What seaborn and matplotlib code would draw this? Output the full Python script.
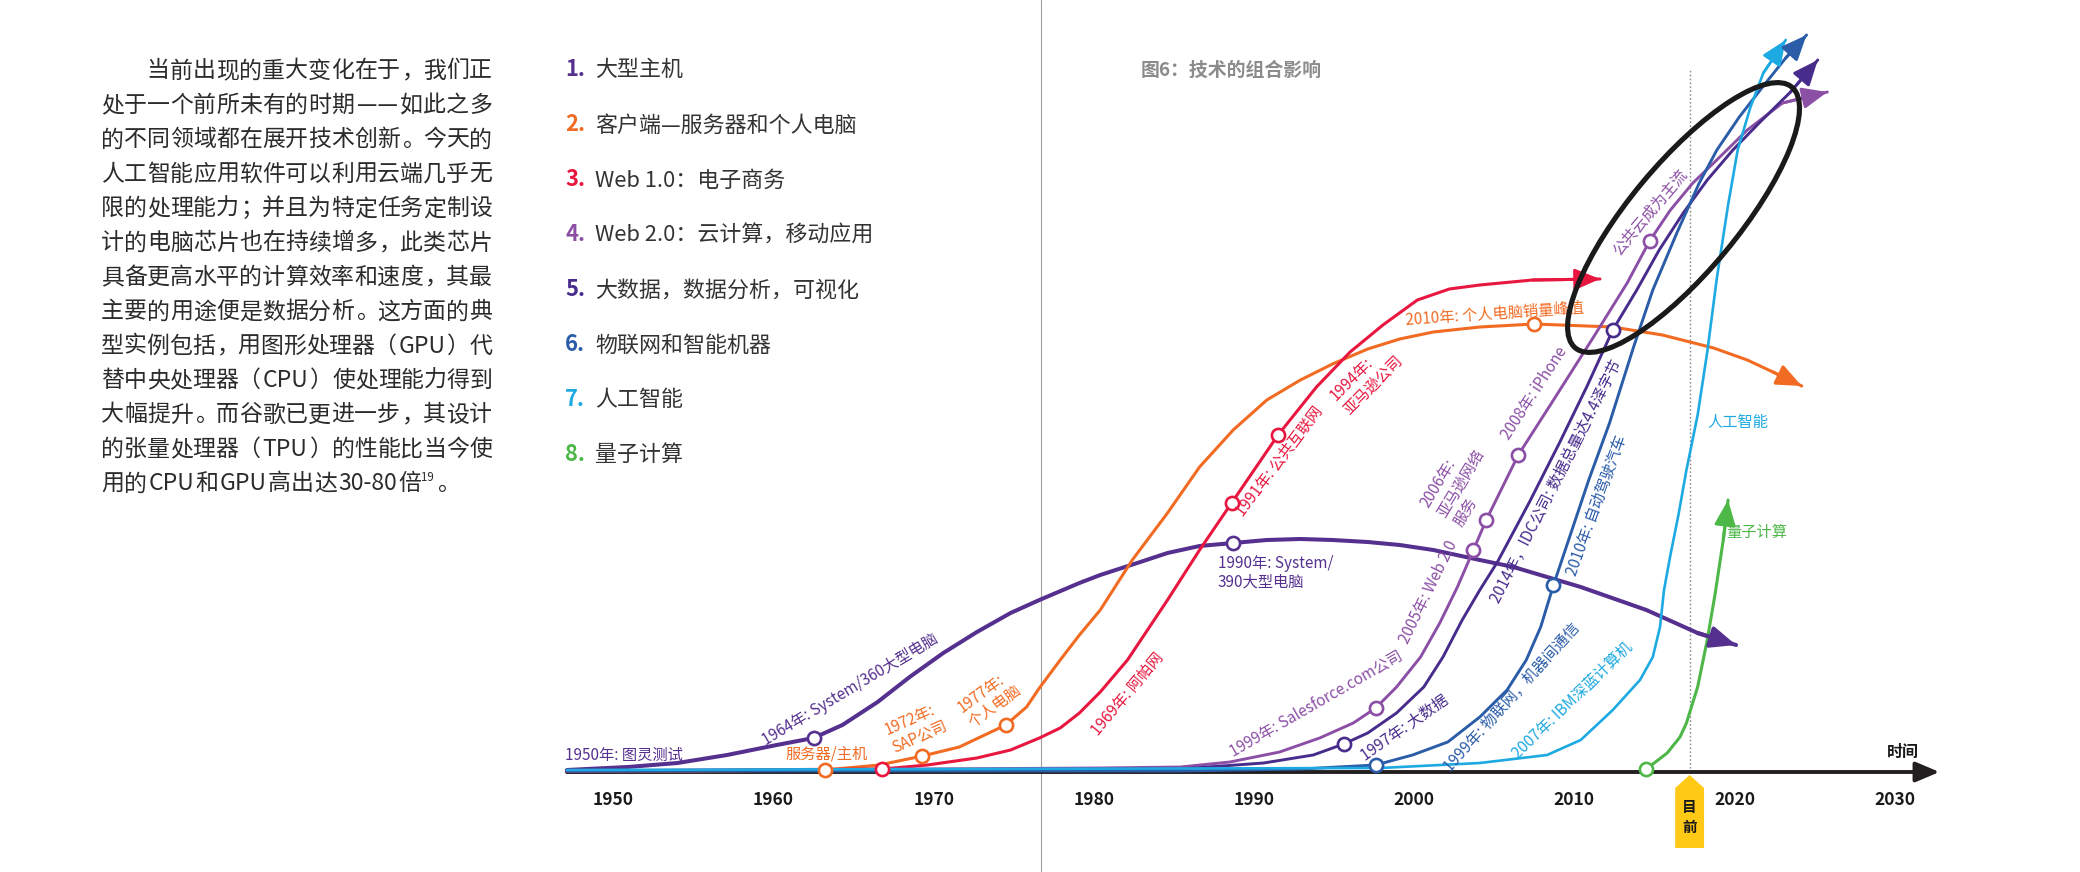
import re
import matplotlib
matplotlib.use("Agg")
import matplotlib.pyplot as plt
import matplotlib.transforms as mtransforms
from matplotlib.patches import Ellipse, Polygon
import pandas as pd
import seaborn as sns

# ------------------------------------------------------------------ data
series_names = ["大型主机", "客户端—服务器和个人电脑", "Web 1.0：电子商务",
                "Web 2.0：云计算，移动应用", "大数据，数据分析，可视化",
                "物联网和智能机器", "人工智能", "量子计算"]
series_colors = ["#55308F", "#F26B22", "#E8173F", "#8C4FA6",
                 "#472C8C", "#2B5CA8", "#1DA9E1", "#4DB748"]

mainframe_year = [1947.1, 1950.9, 1954.0, 1957.1, 1960.2, 1962.5, 1964.3, 1966.5, 1968.5,
                  1970.6, 1972.7, 1974.8, 1976.6, 1979.1, 1980.4, 1982.9, 1984.6, 1986.6,
                  1988.7, 1990.8, 1992.9, 1994.9, 1997.1, 1999.1, 2001.2, 2004.1, 2006.2,
                  2010.4, 2014.5, 2017.7, 2020.1]
mainframe_val = [2, 5, 9, 17, 27, 34, 47, 70, 95, 119, 140, 159, 172, 189, 197, 210, 219,
                 226, 229, 232, 233, 232, 230, 227, 222, 212, 205, 185, 162, 139, 127]

client_year = [1947.1, 1955.4, 1963.2, 1966.6, 1969.3, 1971.6, 1974.5, 1975.8, 1976.6,
               1977.9, 1979.1, 1980.4, 1982.4, 1984.6, 1986.6, 1988.7, 1990.8, 1992.9,
               1994.9, 1997.1, 1999.1, 2001.2, 2004.1, 2007.5, 2012.4, 2015.5, 2018.7,
               2020.8, 2022.4, 2024.2]
client_val = [1, 1, 2, 7, 16, 25, 47, 65, 84, 112, 137, 162, 212, 259, 305, 342, 372, 392,
              408, 423, 433, 440, 445, 448, 445, 437, 424, 412, 400, 386]

web1_year = [1947.1, 1966.8, 1969.6, 1972.7, 1974.8, 1976.6, 1977.9, 1979.1, 1980.4,
             1982.1, 1984.6, 1986.6, 1988.6, 1991.5, 1993.9, 1996.0, 1998.05, 2000.2,
             2002.2, 2004.1, 2007.4, 2011.6]
web1_val = [1, 3, 7, 14, 22, 34, 44, 59, 80, 112, 172, 222, 269, 337, 385, 420, 447, 472,
            483, 487, 492, 493]

web2_year = [1947.1, 1980.4, 1985.4, 1988.5, 1991.6, 1994.1, 1996.2, 1997.6, 1998.9,
             2000.4, 2001.6, 2002.7, 2003.7, 2004.5, 2006.5, 2008.7, 2011.2, 2013.3,
             2014.7, 2016.0, 2017.4, 2018.7, 2020.8, 2023.0, 2025.8]
web2_val = [1, 4, 5, 10, 20, 34, 49, 64, 85, 115, 149, 185, 222, 252, 317, 372, 435, 489,
            531, 562, 589, 609, 642, 669, 680]

bigdata_year = [1947.1, 1985.4, 1990.6, 1993.7, 1995.6, 1997.1, 1998.9, 2000.6, 2001.8,
                2003.0, 2004.1, 2005.2, 2007.2, 2009.1, 2010.8, 2012.4, 2013.9, 2015.3,
                2016.8, 2018.3, 2019.9, 2021.6, 2023.5, 2025.2]
bigdata_val = [1, 3, 9, 17, 28, 39, 59, 85, 115, 152, 182, 210, 270, 330, 386, 442, 482,
               522, 559, 592, 622, 650, 680, 712]

iot_year = [1947.1, 1985.4, 1992.9, 1997.6, 1999.9, 2002.1, 2004.1, 2005.8, 2007.0,
            2007.9, 2008.7, 2010.9, 2012.2, 2013.7, 2014.9, 2016.4, 2017.8, 2018.9, 2020.3,
            2021.8, 2023.2, 2024.5]
iot_val = [1, 1, 3, 7, 17, 30, 55, 82, 112, 145, 187, 292, 349, 425, 482, 539, 589, 622,
           655, 686, 714, 737]

ai_year = [1947.1, 1997.9, 2004.1, 2008.3, 2010.4, 2012.4, 2014.1, 2014.9, 2015.35, 2015.6,
           2016.0, 2016.5, 2017.0, 2017.7, 2018.3, 2018.9, 2019.6, 2020.2, 2021.0, 2021.8,
           2023.2]
ai_val = [2, 4, 9, 17, 32, 62, 92, 115, 145, 182, 217, 257, 302, 357, 420, 494, 567, 622,
          665, 699, 732]

quantum_year = [2014.5, 2015.8, 2016.6, 2017.0, 2017.7, 2018.3, 2018.8, 2019.3, 2019.6]
quantum_val = [3, 19, 35, 49, 85, 132, 179, 232, 272]

series_years = [mainframe_year, client_year, web1_year, web2_year, bigdata_year, iot_year,
                ai_year, quantum_year]
series_vals = [mainframe_val, client_val, web1_val, web2_val, bigdata_val, iot_val,
               ai_val, quantum_val]

# event markers (open circles) per series
marker_years = [[1962.5, 1988.7], [1963.2, 1969.3, 1974.5, 2007.5], [1966.8, 1988.6, 1991.5],
                [1997.6, 2003.7, 2004.5, 2006.5, 2014.7], [1995.6, 2012.4], [1997.6, 2008.7],
                [], [2014.5]]
marker_vals = [[34, 229], [2, 16, 47, 448], [3, 269, 337],
               [64, 222, 252, 317, 531], [28, 442], [7, 187], [], [3]]

event_labels = [
    "1950年: 图灵测试", "1964年: System/360大型电脑", "1990年: System/\n390大型电脑",
    "服务器/主机", "1972年:\nSAP公司", "1977年:\n个人电脑", "2010年: 个人电脑销量峰值",
    "1969年: 阿帕网", "1991年: 公共互联网", "1994年:\n亚马逊公司",
    "1999年: Salesforce.com公司", "2005年: Web 2.0", "2006年:\n亚马逊网络\n服务",
    "2008年: iPhone", "公共云成为主流", "1997年: 大数据",
    "2014年，IDC公司: 数据总量达4.4泽字节", "1999年: 物联网，机器间通信",
    "2010年: 自动驾驶汽车", "2007年: IBM深蓝计算机", "人工智能", "量子计算"]

tick_years = [1950, 1960, 1970, 1980, 1990, 2000, 2010, 2020, 2030]
now_year = 2017.2
now_label = "目\n前"
axis_label = "时间"
title = "图6：技术的组合影响"

para_lines = [
    "当前出现的重大变化在于，我们正",
    "处于一个前所未有的时期——如此之多",
    "的不同领域都在展开技术创新。今天的",
    "人工智能应用软件可以利用云端几乎无",
    "限的处理能力；并且为特定任务定制设",
    "计的电脑芯片也在持续增多，此类芯片",
    "具备更高水平的计算效率和速度，其最",
    "主要的用途便是数据分析。这方面的典",
    "型实例包括，用图形处理器（GPU）代",
    "替中央处理器（CPU）使处理能力得到",
    "大幅提升。而谷歌已更进一步，其设计",
    "的张量处理器（TPU）的性能比当今使",
    "用的CPU和GPU高出达30-80倍",
]
para_sup = "19"
para_end = "。"

# ------------------------------------------------------------------ style
sns.set_style("white")
FONT = ["Noto Sans CJK SC", "DejaVu Sans"]
plt.rcParams["font.family"] = FONT

W, H, DPI = 2080, 872, 100
fig = plt.figure(figsize=(W / DPI, H / DPI), dpi=DPI)
fig.patch.set_facecolor("white")
ax = fig.add_axes([0, 0, 1, 1])
PX_PER_YEAR = 16.016
X0_YEAR = 1990 - 1254 / PX_PER_YEAR
ax.set_xlim(X0_YEAR, X0_YEAR + W / PX_PER_YEAR)
ax.set_ylim(-100, 772)
ax.set_axis_off()

# pixel transform (x from left, y from top) for the page texts
PX = mtransforms.Affine2D().scale(1, -1).translate(0, H)
renderer = fig.canvas.get_renderer()

# ------------------------------------------------------------------ page decorations
ax.axvline(1976.7, color="#a0a0a0", lw=0.8, zorder=1)
ax.vlines(now_year, 0, 703, colors="#8a8a8a", lw=1.0, linestyles=(0, (1.2, 1.6)), zorder=1)

# timeline axis
ax.annotate("", xy=(2032.8, 0), xytext=(1947.1, 0),
            arrowprops=dict(arrowstyle="-|>,head_length=0.9,head_width=0.38",
                            mutation_scale=16, color="#231f20", lw=2.8,
                            shrinkA=0, shrinkB=0), zorder=2)

# ------------------------------------------------------------------ curves
rows = []
for name, ys, vs in zip(series_names, series_years, series_vals):
    for y, v in zip(ys, vs):
        rows.append((name, y, v))
df = pd.DataFrame(rows, columns=["series", "year", "value"])

draw_order = [6, 5, 4, 3, 1, 2, 0, 7]
lws = [2.9, 2.2, 2.2, 2.1, 2.1, 2.1, 1.9, 2.2]
for k in draw_order:
    sub = df[df["series"] == series_names[k]]
    sns.lineplot(data=sub, x="year", y="value", color=series_colors[k], lw=lws[k],
                 sort=False, estimator=None, ax=ax, zorder=3 + k * 0.01,
                 solid_capstyle="round", solid_joinstyle="round", legend=False)
    ys, vs = series_years[k], series_vals[k]
    ax.annotate("", xy=(ys[-1], vs[-1]), xytext=(ys[-2], vs[-2]),
                arrowprops=dict(arrowstyle="-|>,head_length=0.85,head_width=0.36",
                                mutation_scale=18, color=series_colors[k], lw=lws[k],
                                shrinkA=0, shrinkB=0), zorder=3.5)

for k in range(8):
    if marker_years[k]:
        sns.scatterplot(x=marker_years[k], y=marker_vals[k], s=90, color="white",
                        edgecolor=series_colors[k], linewidth=1.9, ax=ax, zorder=5,
                        legend=False)

# ------------------------------------------------------------------ event labels
FS_ANN = 11
placements = [  # (year, value, rotation, ha, colour index)
    (1947.0, 17, 0, "left", 0), (1964.8, 82, 31, "center", 0), (1987.75, 199, 0, "left", 0),
    (1963.3, 18, 0, "center", 1), (1968.9, 44, 24, "center", 1), (1973.5, 73, 36, "center", 1),
    (2005.05, 458, 4, "center", 1),
    (1982.1, 78, 50, "center", 2), (1991.6, 311, 53, "center", 2), (1997.0, 394, 45, "center", 2),
    (1993.9, 68, 30, "center", 3), (2000.9, 180, 64, "center", 3), (2002.9, 289, 59, "center", 3),
    (2007.5, 379, 57, "center", 3), (2014.7, 560, 50, "center", 3),
    (1999.4, 44, 35, "center", 4), (2008.9, 290, 63, "center", 4),
    (2006.1, 75, 48, "center", 5), (2011.4, 267, 70, "center", 5),
    (2009.9, 72, 44, "center", 6), (2020.2, 350, 0, "center", 6),
    (2021.4, 240, 0, "center", 7),
]
for lab, (yr, val, rot, ha, ci) in zip(event_labels, placements):
    ax.text(yr, val, lab, fontsize=FS_ANN, color=series_colors[ci], rotation=rot,
            rotation_mode="anchor", ha=ha, va="center", multialignment="left",
            linespacing=1.15, zorder=6)

# ------------------------------------------------------------------ ellipse highlight
ell_tr = fig.dpi_scale_trans + mtransforms.ScaledTranslation(2016.82, 554.5, ax.transData)
ax.add_patch(Ellipse((0, 0), 3.39, 1.08, angle=50.3, fill=False, lw=3.7,
                     edgecolor="#1a1a1a", transform=ell_tr, zorder=7))

# ------------------------------------------------------------------ axis labels
for yv in tick_years:
    ax.text(yv, -28, str(yv), fontsize=12.5, fontweight="bold", color="#1a1a1a",
            ha="center", va="center", zorder=6)
ax.text(2030.5, 20, axis_label, fontsize=11.5, fontweight="bold", color="#1a1a1a",
        ha="center", va="center", zorder=6)

# "now" tag
ax.add_patch(Polygon([(now_year - 0.9, -76), (now_year - 0.9, -16), (now_year, -3),
                      (now_year + 0.9, -16), (now_year + 0.9, -76)], closed=True,
                     facecolor="#FFC916", edgecolor="none", zorder=6))
ax.text(now_year, -45, now_label, fontsize=10.5, fontweight="bold", color="#1a1a1a",
        ha="center", va="center", linespacing=1.25, zorder=7)

# ------------------------------------------------------------------ title
fig.text(1141, 69 + 0.37 * 19, title, transform=PX, fontsize=13.6, fontweight="bold",
         color="#8c8c8c", ha="left", va="baseline")

# ------------------------------------------------------------------ legend list
FS_LEG = 15.8
em_leg = FS_LEG * DPI / 72
for i, (name, col) in enumerate(zip(series_names, series_colors)):
    yb = 68.3 + i * 55 + 0.37 * em_leg
    fig.text(565, yb, f"{i + 1}.", transform=PX, fontsize=FS_LEG, fontweight="bold",
             color=col, ha="left", va="baseline")
    fig.text(595, yb, name, transform=PX, fontsize=FS_LEG, color="#333333",
             ha="left", va="baseline")

# ------------------------------------------------------------------ justified paragraph
FS_P = 16.5
em = FS_P * DPI / 72
PX0, PX1, PY0, PLH = 101, 492, 69, 34.4
tok_re = re.compile(r"[A-Za-z0-9\-\.]+|——|.")


def text_width(s, fs, weight="normal"):
    t = fig.text(0, 0, s, fontsize=fs, fontweight=weight)
    w = t.get_window_extent(renderer).width
    t.remove()
    return w


def tok_width(t):
    if t == "——":
        return 2 * em
    if re.match(r"[A-Za-z0-9]", t):
        return text_width(t, FS_P) + 0.12 * em
    return em


def draw_tok(t, x, w, base):
    kw = dict(transform=PX, fontsize=FS_P, color="#2b2b2b", va="baseline")
    if t in "，。；：、":
        fig.text(x + 0.08 * em, base, t, ha="left", **kw)
    elif t == "（":
        fig.text(x + w - 0.04 * em, base, t, ha="right", **kw)
    elif t == "）":
        fig.text(x + 0.04 * em, base, t, ha="left", **kw)
    else:
        fig.text(x + w / 2, base, t, ha="center", **kw)


for i, line in enumerate(para_lines):
    base = PY0 + i * PLH + 0.37 * em
    toks = tok_re.findall(line)
    ws = [tok_width(t) for t in toks]
    x = PX0 + (2 * em if i == 0 else 0)
    last = i == len(para_lines) - 1
    gap = 0 if last else (PX1 - x - sum(ws)) / (len(toks) - 1)
    for t, w in zip(toks, ws):
        draw_tok(t, x, w, base)
        x += w + gap
    if last:
        fig.text(x, base - 0.42 * em, para_sup, transform=PX, fontsize=FS_P * 0.5,
                 color="#2b2b2b", ha="left", va="baseline")
        x += text_width(para_sup, FS_P * 0.5) + 1
        draw_tok(para_end, x, em, base)

fig.savefig("out.png", dpi=DPI, facecolor="white")
